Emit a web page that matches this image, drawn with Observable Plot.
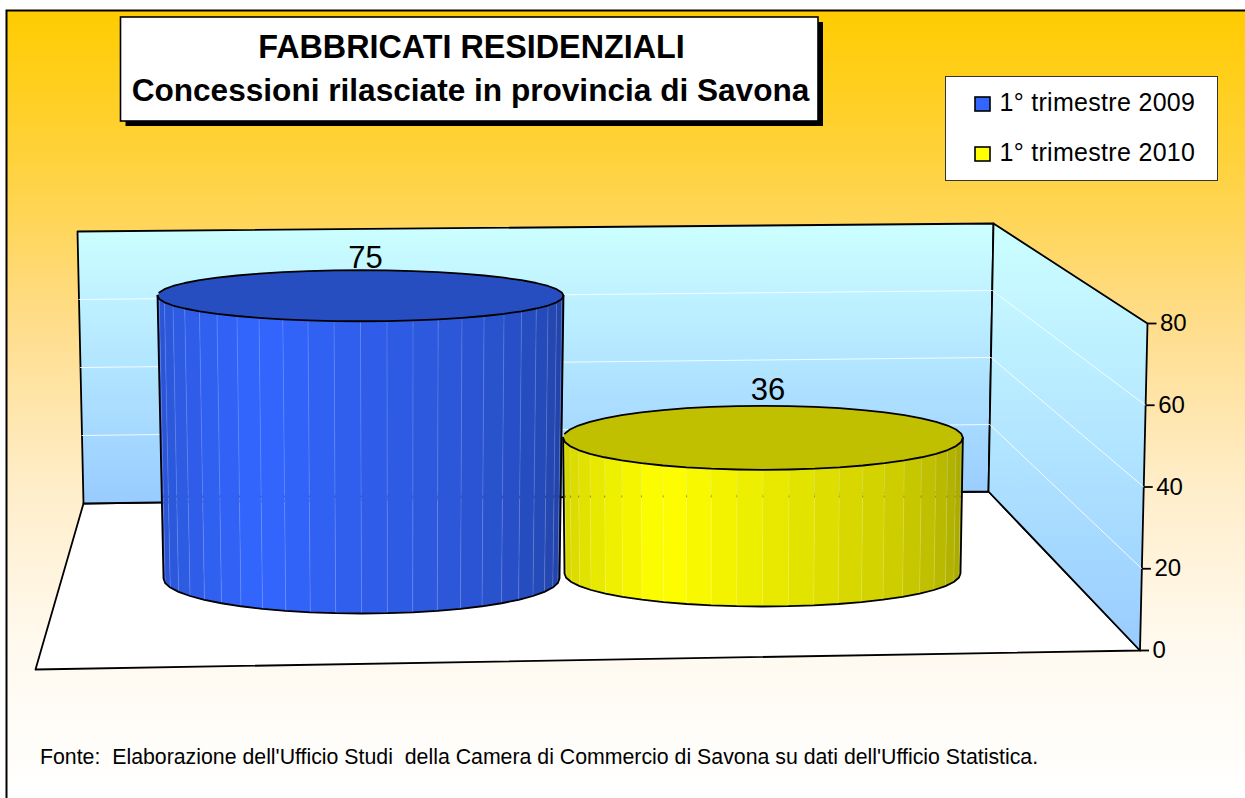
<!DOCTYPE html>
<html><head><meta charset="utf-8">
<script src="https://cdn.jsdelivr.net/npm/d3@7"></script>
<script src="https://cdn.jsdelivr.net/npm/@observablehq/plot@0.6"></script>
<style>
html,body{margin:0;padding:0;background:#fff;overflow:hidden}
svg{display:block}
</style></head><body><div id="chart"></div>
<script>
const categories = ["1° trimestre 2009", "1° trimestre 2010"];
const values = [75, 36];
const seriesColors = ["#3366FF", "#FFFF00"];
const topColors = ["#264EC0", "#C0C000"];
const axisTicks = [0, 20, 40, 60, 80];
const titleLines = ["FABBRICATI RESIDENZIALI", "Concessioni rilasciate in provincia di Savona"];
const sourceText = "Fonte:  Elaborazione dell'Ufficio Studi  della Camera di Commercio di Savona su dati dell'Ufficio Statistica.";

// value units of the y scale <-> page rows
const Y0 = 650, Y80 = 323;
const V = py => (Y0 - py) * 80 / (Y0 - Y80);
// chart box corners
const edge = (x0, y0, x1, y1) => v => [x0 + (x1 - x0) * v / 80, y0 + (y1 - y0) * v / 80];
const backLeft = edge(83, 503, 77, 231), backRight = edge(988, 491, 993, 223), frontRight = edge(1139.5, Y0, 1147, Y80);
const pts = a => a.map(([x, py]) => ({x, y: V(py)}));
const closed = a => pts([...a, a[0]]);

const floorPts = [[83,503],[988,491],[1139.5,650],[35,669]];
const backPts = [backLeft(0), backRight(0), backRight(80), backLeft(80)];
const sidePts = [backRight(0), frontRight(0), frontRight(80), backRight(80)];
const grid = axisTicks.slice(1, 4).flatMap(t => [backLeft(t), backRight(t), frontRight(t)].map(([x, py]) => ({x, y: V(py), t})));

// cylinders
const topRy = d3.scaleLinear([0, 36, 75], [34, 32, 25.5]);
const cyl = (value, i) => ({
  cxB: 361 + 401 * i, cxT: 360 + 402.5 * i, base: 578 - 5 * i, top: 578 - 5 * i - value * 3.77,
  rxB: 198, ryB: 35 - 2 * i, rxT: 197 + value * 0.08, ryT: topRy(value)
});
const shade = d3.scaleLinear([0, 60, 95, 133, 180], [0.8, 1, 0.91, 0.8, 0.63]);
const step = 7.5;
const ring = (cx, cy, rx, ry, a) => [cx - rx * Math.cos(a * Math.PI / 180), cy + ry * Math.sin(a * Math.PI / 180)];
const angles = d3.range(0, 180.01, step);
const facets = [], seams = [], seamMarks = [], tops = [], outlines = [], labels = [];
values.forEach((value, i) => {
  const c = cyl(value, i), rgb = d3.rgb(seriesColors[i]);
  angles.slice(0, -1).forEach((a, k) => {
    const b = a + step, m = shade(a + step / 2);
    const fill = d3.rgb(rgb.r * m, rgb.g * m, rgb.b * m).formatHex();
    const P = [ring(c.cxB, c.base, c.rxB, c.ryB, a), ring(c.cxB, c.base, c.rxB, c.ryB, b), ring(c.cxT, c.top, c.rxT, c.ryT, b), ring(c.cxT, c.top, c.rxT, c.ryT, a)];
    pts(P).forEach(p => facets.push({...p, id: `${i}-${k}`, fill}));
    if (k > 0) {
      pts([P[0], P[3]]).forEach(p => seams.push({...p, id: `${i}-${k}`}));
      const t = (496.5 - P[3][1]) / (P[0][1] - P[3][1]);
      seamMarks.push({x: P[3][0] + (P[0][0] - P[3][0]) * t});
    }
  });
  d3.range(0, 360, step).forEach(a => tops.push({...pts([ring(c.cxT, c.top, c.rxT, c.ryT, a)])[0], i, fill: topColors[i]}));
  const out = [ring(c.cxT, c.top, c.rxT, c.ryT, 0),
               ...angles.map(a => ring(c.cxB, c.base, c.rxB, c.ryB, a)),
               ring(c.cxT, c.top, c.rxT, c.ryT, 180)];
  pts(out).forEach(p => outlines.push({...p, i}));
  labels.push({x: c.cxT + 5, y: V(c.top - c.ryT - 2 - 4 * i), text: String(value)});
});

const defs = () => {
  const d = d3.create("svg:defs");
  const grad = (id, y1, y2, stops) => {
    const g = d.append("linearGradient").attr("id", id).attr("gradientUnits", "userSpaceOnUse")
      .attr("x1", 0).attr("x2", 0).attr("y1", y1).attr("y2", y2);
    stops.forEach(([o, c]) => g.append("stop").attr("offset", o).attr("stop-color", c));
  };
  grad("bg", 10, 798, [[0,"#FFCC00"],[0.2,"#FFD23F"],[0.4,"#FFDD8C"],[0.6,"#FFEDC8"],[0.8,"#FFF9EE"],[1,"#FFFFFF"]]);
  grad("backWall", 225, 500, [[0,"#CCFFFF"],[1,"#99CCFF"]]);
  grad("sideWall", 223, 650, [[0,"#CCFFFF"],[1,"#99CCFF"]]);
  return d.node();
};

const lab = {fontFamily: "'Liberation Sans', Arial, sans-serif", fill: "#000"};
const plot = Plot.plot({
  width: 1245, height: 798, margin: 0,
  x: {domain: [0, 1245], range: [0, 1245], axis: null},
  y: {domain: [0, 80], range: [Y0, Y80], axis: null},
  color: {type: "identity"},
  style: {background: "#fff", fontFamily: lab.fontFamily},
  marks: [
    defs,
    // page
    Plot.rect([0], {x1: 6.5, x2: 1260, y1: V(10.5), y2: V(815), fill: "url(#bg)", stroke: "#000", strokeWidth: 2}),
    // box
    Plot.line(closed(floorPts), {x: "x", y: "y", fill: "#fff", stroke: "#000", strokeWidth: 1.8}),
    Plot.line(closed(backPts), {x: "x", y: "y", fill: "url(#backWall)", stroke: "#000", strokeWidth: 1.8}),
    Plot.line(closed(sidePts), {x: "x", y: "y", fill: "url(#sideWall)", stroke: "#000", strokeWidth: 1.8}),
    Plot.line(grid, {x: "x", y: "y", z: "t", stroke: "#fff", strokeWidth: 1, strokeOpacity: 0.85}),
    // axis
    Plot.link(axisTicks, {x1: t => frontRight(t)[0], x2: t => frontRight(t)[0] + 9, y1: t => t, y2: t => t, stroke: "#000", strokeWidth: 1.8}),
    Plot.text(axisTicks, {x: t => frontRight(t)[0] + 12.5, y: t => t, text: String, textAnchor: "start", fontSize: 24, ...lab}),
    // cylinders
    Plot.line(facets, {x: "x", y: "y", z: "id", fill: "fill", stroke: "fill", strokeWidth: 0.5}),
    Plot.line(seams, {x: "x", y: "y", z: "id", stroke: "#fff", strokeOpacity: 0.16, strokeWidth: 1}),
    Plot.ruleX(seamMarks, {x: "x", y1: V(495.5), y2: V(497.5), stroke: "#000", strokeOpacity: 0.3, strokeWidth: 1}),
    Plot.line(tops, {x: "x", y: "y", z: "i", fill: "fill", stroke: "#000", strokeWidth: 1.8}),
    Plot.line(outlines, {x: "x", y: "y", z: "i", stroke: "#000", strokeWidth: 1.8}),
    Plot.text(labels, {x: "x", y: "y", text: "text", lineAnchor: "bottom", fontSize: 31, ...lab}),
    // title
    Plot.rect([0], {x1: 125.5, x2: 823, y1: V(22), y2: V(126), fill: "#000"}),
    Plot.rect([0], {x1: 120.5, x2: 818, y1: V(17), y2: V(121), fill: "#fff", stroke: "#000", strokeWidth: 1.6}),
    Plot.text(titleLines.slice(0, 1), {x: 471, y: V(47), text: d => d, fontSize: 32.3, fontWeight: "bold", ...lab}),
    Plot.text(titleLines.slice(1), {x: 470, y: V(90), text: d => d, fontSize: 31.6, fontWeight: "bold", ...lab}),
    // legend
    Plot.rect([0], {x1: 945.5, x2: 1217.5, y1: V(76.5), y2: V(180.5), fill: "#fff", stroke: "#333", strokeWidth: 1}),
    Plot.rect(categories, {x1: 975, x2: 990, y1: (d, i) => V(97 + 50 * i), y2: (d, i) => V(111 + 50 * i), fill: (d, i) => seriesColors[i], stroke: "#000", strokeWidth: 1.6}),
    Plot.text(categories, {x: 999, y: (d, i) => V(110.5 + 50 * i), text: d => d, textAnchor: "start", lineAnchor: "bottom", fontSize: 25, ...lab}),
    // source
    Plot.text([sourceText], {x: 39.5, y: V(757), text: d => d, textAnchor: "start", fontSize: 21.3, ...lab})
  ]
});
d3.select(plot).selectAll("text").filter(function () { return categories.includes(this.textContent); }).style("letter-spacing", "0.3px");
document.getElementById("chart").append(plot);
</script></body></html>
